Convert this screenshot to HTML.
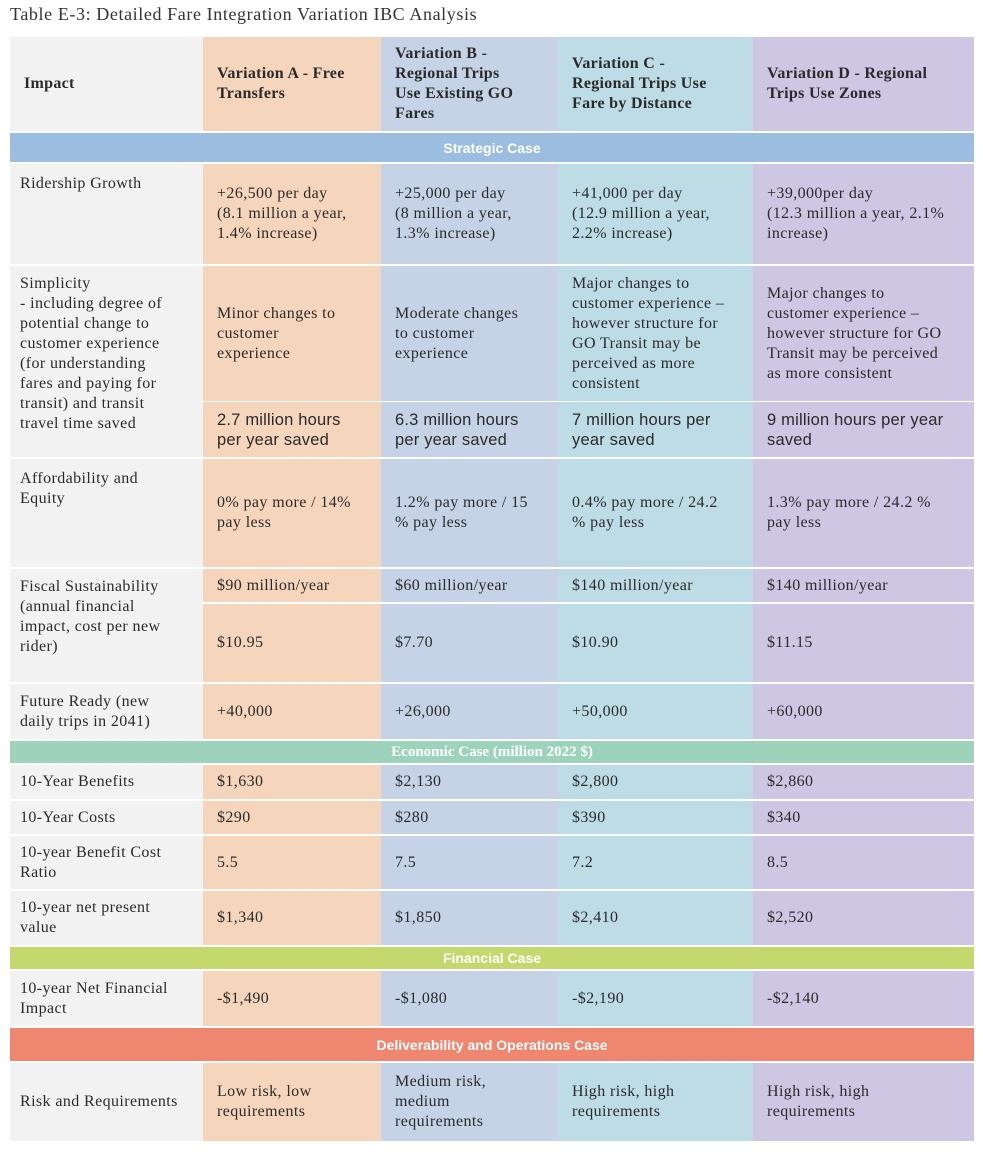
<!DOCTYPE html>
<html><head><meta charset="utf-8"><style>
body{margin:0;width:983px;height:1153px;background:#fff;position:relative;overflow:hidden;font-family:"Liberation Serif",serif;color:#2a2a2a}
.c{position:absolute;box-sizing:border-box;display:flex;align-items:center;padding:0 4px 0 14px;font-size:16px;letter-spacing:0.4px;line-height:20px;white-space:nowrap}
.t{align-items:flex-start;padding-top:10px;padding-left:10px}
.k{background:#f2f2f2}.a{background:#f6d5bd}.b{background:#c6d3e6}.cc{background:#bedce6}.d{background:#cdc7e3}
.h{font-weight:bold;font-size:16px;letter-spacing:0.3px}
.band{position:absolute;left:10px;width:964px;justify-content:center;display:flex;align-items:center;color:#fff;font-family:"Liberation Sans",sans-serif;font-weight:bold;font-size:14px}
.s{font-family:"Liberation Sans",sans-serif;font-size:16.5px;letter-spacing:0.2px}
</style></head><body>
<div style="position:absolute;left:10px;top:4px;font-size:18px;letter-spacing:0.6px;color:#333">Table E-3: Detailed Fare Integration Variation IBC Analysis</div>

<div class="c k h" style="left:10px;top:37px;width:193px;height:94px">Impact</div>
<div class="c a h" style="left:203px;top:37px;width:178px;height:94px">Variation A - Free<br>Transfers</div>
<div class="c b h" style="left:381px;top:37px;width:177px;height:94px">Variation B -<br>Regional Trips<br>Use Existing GO<br>Fares</div>
<div class="c cc h" style="left:558px;top:37px;width:195px;height:94px">Variation C -<br>Regional Trips Use<br>Fare by Distance</div>
<div class="c d h" style="left:753px;top:37px;width:221px;height:94px">Variation D - Regional<br>Trips Use Zones</div>

<div class="band" style="top:133px;height:29px;background:#9bbde0">Strategic Case</div>

<div class="c k t" style="left:10px;top:164px;width:193px;height:100px">Ridership Growth</div>
<div class="c a" style="left:203px;top:164px;width:178px;height:100px">+26,500 per day<br>(8.1 million a year,<br>1.4% increase)</div>
<div class="c b" style="left:381px;top:164px;width:177px;height:100px">+25,000 per day<br>(8 million a year,<br>1.3% increase)</div>
<div class="c cc" style="left:558px;top:164px;width:195px;height:100px">+41,000 per day<br>(12.9 million a year,<br>2.2% increase)</div>
<div class="c d" style="left:753px;top:164px;width:221px;height:100px">+39,000per day<br>(12.3 million a year, 2.1%<br>increase)</div>

<div class="c k t" style="left:10px;top:266px;width:193px;height:191px;padding-top:8px">Simplicity<br>- including degree of<br>potential change to<br>customer experience<br>(for understanding<br>fares and paying for<br>transit) and transit<br>travel time saved</div>
<div class="c a" style="left:203px;top:266px;width:178px;height:135px">Minor changes to<br>customer<br>experience</div>
<div class="c b" style="left:381px;top:266px;width:177px;height:135px">Moderate changes<br>to customer<br>experience</div>
<div class="c cc" style="left:558px;top:266px;width:195px;height:135px">Major changes to<br>customer experience –<br>however structure for<br>GO Transit may be<br>perceived as more<br>consistent</div>
<div class="c d" style="left:753px;top:266px;width:221px;height:135px">Major changes to<br>customer experience –<br>however structure for GO<br>Transit may be perceived<br>as more consistent</div>
<div class="c a s" style="left:203px;top:402px;width:178px;height:55px">2.7 million hours<br>per year saved</div>
<div class="c b s" style="left:381px;top:402px;width:177px;height:55px">6.3 million hours<br>per year saved</div>
<div class="c cc s" style="left:558px;top:402px;width:195px;height:55px">7 million hours per<br>year saved</div>
<div class="c d s" style="left:753px;top:402px;width:221px;height:55px">9 million hours per year<br>saved</div>

<div class="c k t" style="left:10px;top:459px;width:193px;height:108px">Affordability and<br>Equity</div>
<div class="c a" style="left:203px;top:459px;width:178px;height:108px">0% pay more / 14%<br>pay less</div>
<div class="c b" style="left:381px;top:459px;width:177px;height:108px">1.2% pay more / 15<br>% pay less</div>
<div class="c cc" style="left:558px;top:459px;width:195px;height:108px">0.4% pay more / 24.2<br>% pay less</div>
<div class="c d" style="left:753px;top:459px;width:221px;height:108px">1.3% pay more / 24.2 %<br>pay less</div>

<div class="c k t" style="left:10px;top:569px;width:193px;height:113px;padding-top:8px">Fiscal Sustainability<br>(annual financial<br>impact, cost per new<br>rider)</div>
<div class="c a" style="left:203px;top:569px;width:178px;height:33px">$90 million/year</div>
<div class="c b" style="left:381px;top:569px;width:177px;height:33px">$60 million/year</div>
<div class="c cc" style="left:558px;top:569px;width:195px;height:33px">$140 million/year</div>
<div class="c d" style="left:753px;top:569px;width:221px;height:33px">$140 million/year</div>
<div class="c a" style="left:203px;top:604px;width:178px;height:78px">$10.95</div>
<div class="c b" style="left:381px;top:604px;width:177px;height:78px">$7.70</div>
<div class="c cc" style="left:558px;top:604px;width:195px;height:78px">$10.90</div>
<div class="c d" style="left:753px;top:604px;width:221px;height:78px">$11.15</div>

<div class="c k t" style="left:10px;top:684px;width:193px;height:55px;padding-top:8px">Future Ready (new<br>daily trips in 2041)</div>
<div class="c a" style="left:203px;top:684px;width:178px;height:55px">+40,000</div>
<div class="c b" style="left:381px;top:684px;width:177px;height:55px">+26,000</div>
<div class="c cc" style="left:558px;top:684px;width:195px;height:55px">+50,000</div>
<div class="c d" style="left:753px;top:684px;width:221px;height:55px">+60,000</div>

<div class="band" style="top:741px;height:22px;background:#9dd3bb;font-family:'Liberation Serif',serif;font-size:15px">Economic Case (million 2022 $)</div>

<div class="c k" style="left:10px;top:765px;width:193px;height:34px;padding-left:10px">10-Year Benefits</div>
<div class="c a" style="left:203px;top:765px;width:178px;height:34px">$1,630</div>
<div class="c b" style="left:381px;top:765px;width:177px;height:34px">$2,130</div>
<div class="c cc" style="left:558px;top:765px;width:195px;height:34px">$2,800</div>
<div class="c d" style="left:753px;top:765px;width:221px;height:34px">$2,860</div>

<div class="c k" style="left:10px;top:801px;width:193px;height:33px;padding-left:10px">10-Year Costs</div>
<div class="c a" style="left:203px;top:801px;width:178px;height:33px">$290</div>
<div class="c b" style="left:381px;top:801px;width:177px;height:33px">$280</div>
<div class="c cc" style="left:558px;top:801px;width:195px;height:33px">$390</div>
<div class="c d" style="left:753px;top:801px;width:221px;height:33px">$340</div>

<div class="c k" style="left:10px;top:836px;width:193px;height:53px;padding-left:10px">10-year Benefit Cost<br>Ratio</div>
<div class="c a" style="left:203px;top:836px;width:178px;height:53px">5.5</div>
<div class="c b" style="left:381px;top:836px;width:177px;height:53px">7.5</div>
<div class="c cc" style="left:558px;top:836px;width:195px;height:53px">7.2</div>
<div class="c d" style="left:753px;top:836px;width:221px;height:53px">8.5</div>

<div class="c k" style="left:10px;top:891px;width:193px;height:54px;padding-left:10px">10-year net present<br>value</div>
<div class="c a" style="left:203px;top:891px;width:178px;height:54px">$1,340</div>
<div class="c b" style="left:381px;top:891px;width:177px;height:54px">$1,850</div>
<div class="c cc" style="left:558px;top:891px;width:195px;height:54px">$2,410</div>
<div class="c d" style="left:753px;top:891px;width:221px;height:54px">$2,520</div>

<div class="band" style="top:947px;height:22px;background:#c4d86e">Financial Case</div>

<div class="c k" style="left:10px;top:971px;width:193px;height:55px;padding-left:10px">10-year Net Financial<br>Impact</div>
<div class="c a" style="left:203px;top:971px;width:178px;height:55px">-$1,490</div>
<div class="c b" style="left:381px;top:971px;width:177px;height:55px">-$1,080</div>
<div class="c cc" style="left:558px;top:971px;width:195px;height:55px">-$2,190</div>
<div class="c d" style="left:753px;top:971px;width:221px;height:55px">-$2,140</div>

<div class="band" style="top:1028px;height:33px;background:#ee8670">Deliverability and Operations Case</div>

<div class="c k" style="left:10px;top:1063px;width:193px;height:78px;padding-left:10px">Risk and Requirements</div>
<div class="c a" style="left:203px;top:1063px;width:178px;height:78px">Low risk, low<br>requirements</div>
<div class="c b" style="left:381px;top:1063px;width:177px;height:78px">Medium risk,<br>medium<br>requirements</div>
<div class="c cc" style="left:558px;top:1063px;width:195px;height:78px">High risk, high<br>requirements</div>
<div class="c d" style="left:753px;top:1063px;width:221px;height:78px">High risk, high<br>requirements</div>
</body></html>
